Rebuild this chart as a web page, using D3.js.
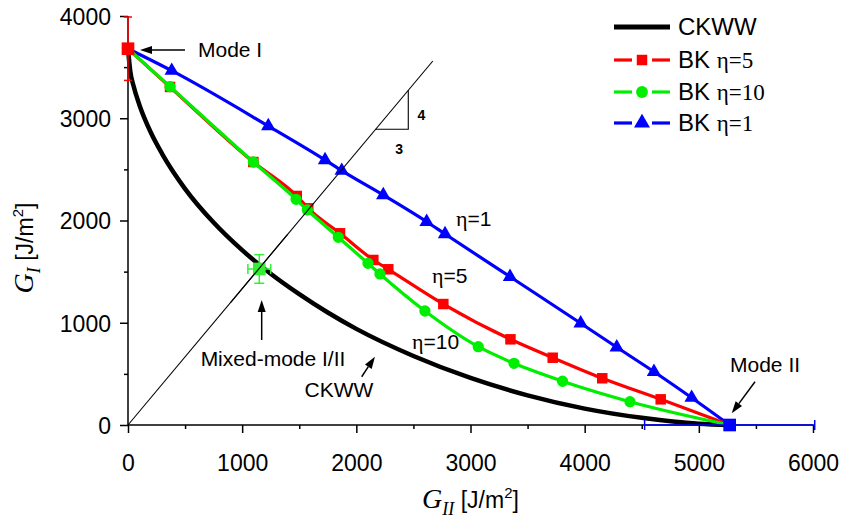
<!DOCTYPE html>
<html><head><meta charset="utf-8">
<script src="https://cdn.jsdelivr.net/npm/d3@7"></script>
<style>body{margin:0;background:#fff}svg{display:block}</style>
</head><body>
<svg id="c" width="842" height="524"></svg>
<script>
// ---------- data ----------
const xTicks = [0, 1000, 2000, 3000, 4000, 5000, 6000];
const yTicks = [0, 1000, 2000, 3000, 4000];

const ckwwGII = [0, 20, 50, 100, 200, 300, 500, 750, 1000, 1250, 1500, 1750, 2000, 2500, 3000, 3500, 4000, 4500, 5000, 5270];
const ckwwGI  = [3680, 3460, 3310, 3130, 2860, 2650, 2310, 1980, 1710, 1480, 1280, 1100, 940, 675, 460, 290, 160, 70, 12, 0];

const bk5GII = [0, 368, 1098, 1478, 1579, 1857, 2149, 2280, 2762, 3350, 3720, 4154, 4666, 5270];
const bk5GI  = [3680, 3306, 2572, 2240, 2119, 1875, 1614, 1523, 1183, 838, 658, 457, 251, 0];

const bk10GII = [0, 368, 1098, 1472, 1571, 1842, 2102, 2207, 2601, 3068, 3381, 3806, 4397, 5270];
const bk10GI  = [3680, 3309, 2572, 2207, 2103, 1836, 1581, 1477, 1115, 766, 603, 428, 228, 0];

const bk1GII = [0, 383, 1229, 1726, 1872, 2236, 2616, 2777, 3346, 3965, 4281, 4607, 4937, 5270];
const bk1GI  = [3680, 3465, 2924, 2592, 2487, 2249, 1988, 1868, 1450, 995, 760, 521, 267, 0];

// experimental points: [GII, GI, errGII, errGI]
const modeI  = [0, 3680, 0, 310];
const mixed  = [1150, 1526, 100, 140];
const modeII = [5270, 0, 745, 0];

const ratioLine = [[0, 0], [2670, 3560]];
const slopeTri = [[2170, 2893], [2455, 2893], [2455, 3273]];

// ---------- setup ----------
const svg = d3.select('#c');
const x = d3.scaleLinear().domain([0, 6000]).range([128, 813]);
const y = d3.scaleLinear().domain([0, 4000]).range([425, 16]);
const SANS = 'Arial, "Liberation Sans", Helvetica, sans-serif';
const SERIF = '"Times New Roman", "Liberation Serif", serif';

svg.append('rect').attr('width', 842).attr('height', 524).attr('fill', '#fff');

// axes
const xAxis = d3.axisBottom(x).tickValues(d3.range(0, 6001, 500)).tickSize(8)
  .tickFormat(d => xTicks.includes(d) ? d : '');
const gx = svg.append('g').attr('transform', `translate(0,${y(0)})`).call(xAxis);
gx.selectAll('.tick line').attr('y2', d => d % 1000 === 0 ? 8 : 4);
gx.select('.domain').attr('d', `M${x(0)},0H${x(6000)}`);
gx.selectAll('text').attr('font-family', SANS).attr('font-size', 23).attr('fill', '#000').attr('dy', null).attr('y', 46);

const yAxis = d3.axisLeft(y).tickValues(d3.range(0, 4001, 500)).tickSize(8)
  .tickFormat(d => yTicks.includes(d) ? d : '');
const gy = svg.append('g').attr('transform', `translate(${x(0)},0)`).call(yAxis);
gy.selectAll('.tick line').attr('x2', d => d % 1000 === 0 ? -8 : -4);
gy.select('.domain').attr('d', `M0,${y(0)}V${y(4000)}`);
gy.selectAll('text').attr('font-family', SANS).attr('font-size', 23).attr('fill', '#000').attr('x', -17).attr('dy', '0.36em');
svg.selectAll('.domain, .tick line').attr('stroke', '#000').attr('stroke-width', 1.5);

// axis titles
const xt = svg.append('text').attr('x', x(3000)).attr('y', 508).attr('text-anchor', 'middle').attr('fill', '#000');
xt.append('tspan').attr('font-family', SERIF).attr('font-style', 'italic').attr('font-size', 28).text('G');
xt.append('tspan').attr('font-family', SERIF).attr('font-style', 'italic').attr('font-size', 18).attr('dy', 7).text('II');
xt.append('tspan').attr('font-family', SANS).attr('font-size', 23).attr('dy', -7).text(' [J/m');
xt.append('tspan').attr('font-family', SANS).attr('font-size', 15).attr('dy', -10).text('2');
xt.append('tspan').attr('font-family', SANS).attr('font-size', 23).attr('dy', 10).text(']');

const yt = svg.append('text').attr('transform', 'translate(33,248) rotate(-90)').attr('text-anchor', 'middle').attr('fill', '#000');
yt.append('tspan').attr('font-family', SERIF).attr('font-style', 'italic').attr('font-size', 28).text('G');
yt.append('tspan').attr('font-family', SERIF).attr('font-style', 'italic').attr('font-size', 18).attr('dy', 7).text('I');
yt.append('tspan').attr('font-family', SANS).attr('font-size', 23).attr('dy', -7).text(' [J/m');
yt.append('tspan').attr('font-family', SANS).attr('font-size', 15).attr('dy', -10).text('2');
yt.append('tspan').attr('font-family', SANS).attr('font-size', 23).attr('dy', 10).text(']');

// ---------- curves ----------
const zip = (a, b) => a.map((v, i) => [v, b[i]]);
const line = d3.line().x(d => x(d[0])).y(d => y(d[1])).curve(d3.curveMonotoneX);

svg.append('path').datum(zip(ckwwGII, ckwwGI)).attr('d', line)
  .attr('fill', 'none').attr('stroke', '#000').attr('stroke-width', 4.5);

const series = [
  {gii: bk1GII, gi: bk1GI, color: '#0000ff', sym: d3.symbolTriangle, size: 90},
  {gii: bk5GII, gi: bk5GI, color: '#ff0000', sym: d3.symbolSquare, size: 110},
  {gii: bk10GII, gi: bk10GI, color: '#00ee00', sym: d3.symbolCircle, size: 100},
];
series.forEach(s => {
  const pts = zip(s.gii, s.gi);
  svg.append('path').datum(pts).attr('d', line)
    .attr('fill', 'none').attr('stroke', s.color).attr('stroke-width', 3.2);
  svg.append('g').selectAll('path').data(pts.slice(1, -1)).join('path')
    .attr('transform', d => `translate(${x(d[0])},${y(d[1])})`)
    .attr('d', d3.symbol().type(s.sym).size(s.size)).attr('fill', s.color);
});

// 4:3 ratio line and slope triangle
svg.append('path').datum(ratioLine).attr('d', d3.line().x(d => x(d[0])).y(d => y(d[1])))
  .attr('stroke', '#000').attr('stroke-width', 1.1).attr('fill', 'none');
svg.append('path').datum(slopeTri).attr('d', d3.line().x(d => x(d[0])).y(d => y(d[1])))
  .attr('stroke', '#000').attr('stroke-width', 1.1).attr('fill', 'none');
svg.append('text').attr('x', x(2570)).attr('y', y(2985)).attr('text-anchor', 'middle')
  .attr('font-family', SANS).attr('font-weight', 'bold').attr('font-size', 14).text('4');
svg.append('text').attr('x', x(2374)).attr('y', y(2650)).attr('text-anchor', 'middle')
  .attr('font-family', SANS).attr('font-weight', 'bold').attr('font-size', 14).text('3');

// ---------- experimental points with error bars ----------
function expPoint(p, color, capV, capH) {
  const g = svg.append('g').attr('stroke', color).attr('stroke-width', 1.5);
  const cx = x(p[0]), cy = y(p[1]);
  if (p[3] > 0) {
    const y1 = y(p[1] + p[3]), y2 = y(p[1] - p[3]);
    g.append('line').attr('x1', cx).attr('x2', cx).attr('y1', y1).attr('y2', y2);
    g.append('line').attr('x1', cx - capV).attr('x2', cx + capV).attr('y1', y1).attr('y2', y1);
    g.append('line').attr('x1', cx - capV).attr('x2', cx + capV).attr('y1', y2).attr('y2', y2);
  }
  if (p[2] > 0) {
    const x1 = x(p[0] - p[2]), x2 = x(p[0] + p[2]);
    g.append('line').attr('x1', x1).attr('x2', x2).attr('y1', cy).attr('y2', cy);
    g.append('line').attr('x1', x1).attr('x2', x1).attr('y1', cy - capH).attr('y2', cy + capH);
    g.append('line').attr('x1', x2).attr('x2', x2).attr('y1', cy - capH).attr('y2', cy + capH);
  }
  svg.append('path').attr('transform', `translate(${cx},${cy})`)
    .attr('d', d3.symbol().type(d3.symbolSquare).size(160)).attr('fill', color);
}
expPoint(modeI, '#ff0000', 4, 4);
expPoint(mixed, '#33ee33', 5, 5);
expPoint(modeII, '#0000ff', 5, 5);
// ratio line passes over mixed point
svg.append('path').datum([[900, 1200], [1400, 1867]]).attr('d', d3.line().x(d => x(d[0])).y(d => y(d[1])))
  .attr('stroke', '#000').attr('stroke-width', 1.1);

// ---------- annotations ----------
function arrow(from, to) {
  const x1 = x(from[0]), y1 = y(from[1]), x2 = x(to[0]), y2 = y(to[1]);
  const a = Math.atan2(y2 - y1, x2 - x1), L = 12, W = 4;
  const bx = x2 - L * Math.cos(a), by = y2 - L * Math.sin(a);
  svg.append('line').attr('x1', x1).attr('y1', y1).attr('x2', bx).attr('y2', by)
    .attr('stroke', '#000').attr('stroke-width', 1.5);
  svg.append('path').attr('d', `M${x2},${y2}L${bx - W * Math.sin(a)},${by + W * Math.cos(a)}L${bx + W * Math.sin(a)},${by - W * Math.cos(a)}Z`)
    .attr('fill', '#000');
}
function label(t, gx_, gy_, anchor) {
  svg.append('text').attr('x', x(gx_)).attr('y', y(gy_)).attr('text-anchor', anchor || 'start')
    .attr('font-family', SANS).attr('font-size', 21).attr('fill', '#000').text(t);
}
arrow([499, 3667], [105, 3667]);
label('Mode I', 613, 3599);
arrow([5492, 423], [5288, 115]);
label('Mode II', 5580, 518, 'middle');
arrow([1171, 831], [1171, 1222]);
label('Mixed-mode I/II', 1270, 577, 'middle');
arrow([2047, 472], [2163, 668]);
label('CKWW', 1848, 274, 'middle');

function etaLabel(v, gx_, gy_) {
  const t = svg.append('text').attr('x', x(gx_)).attr('y', y(gy_)).attr('fill', '#000');
  t.append('tspan').attr('font-family', SERIF).attr('font-size', 22).text('η');
  t.append('tspan').attr('font-family', SANS).attr('font-size', 21).text('=' + v);
}
etaLabel('1', 2873, 1946);
etaLabel('5', 2663, 1389);
etaLabel('10', 2488, 743);

// ---------- legend ----------
const legendItems = [
  {name: 'CKWW', eta: null, color: '#000', sym: null},
  {name: 'BK ', eta: '=5', color: '#ff0000', sym: d3.symbolSquare, size: 110},
  {name: 'BK ', eta: '=10', color: '#00ee00', sym: d3.symbolCircle, size: 110},
  {name: 'BK ', eta: '=1', color: '#0000ff', sym: d3.symbolTriangle, size: 110},
];
const legY = [27, 60, 92, 123];
legendItems.forEach((it, i) => {
  const g = svg.append('g').attr('transform', `translate(0,${legY[i]})`);
  if (!it.sym) {
    g.append('line').attr('x1', 614).attr('x2', 670).attr('stroke', '#000').attr('stroke-width', 5);
  } else {
    g.append('line').attr('x1', 614).attr('x2', 632).attr('stroke', it.color).attr('stroke-width', 3.2);
    g.append('line').attr('x1', 652).attr('x2', 670).attr('stroke', it.color).attr('stroke-width', 3.2);
    g.append('path').attr('transform', 'translate(642,0)').attr('d', d3.symbol().type(it.sym).size(it.size)).attr('fill', it.color);
  }
  const t = g.append('text').attr('x', 678).attr('y', 8).attr('fill', '#000');
  t.append('tspan').attr('font-family', SANS).attr('font-size', 24).text(it.name);
  if (it.eta) {
    t.append('tspan').attr('font-family', SERIF).attr('font-size', 23).text('η' + it.eta);
  }
});
</script>
</body></html>
